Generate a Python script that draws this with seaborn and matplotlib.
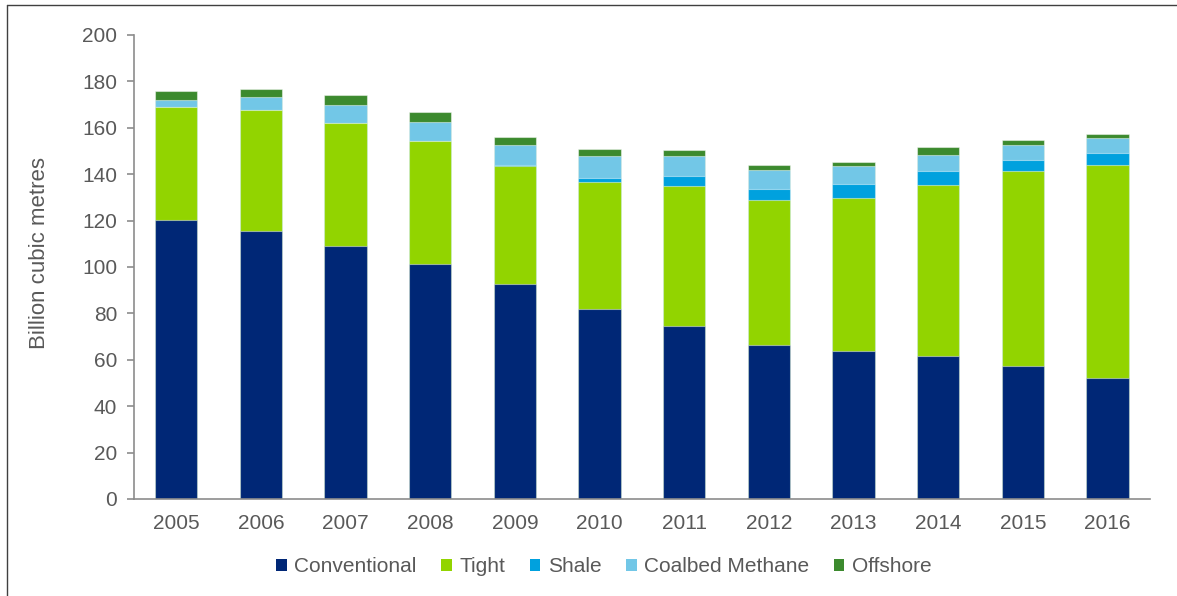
import matplotlib
matplotlib.use("Agg")
import matplotlib.pyplot as plt
import numpy as np
import pandas as pd
import seaborn as sns
from matplotlib.lines import Line2D
from matplotlib.patches import Patch

YEARS = ["2005", "2006", "2007", "2008", "2009", "2010",
         "2011", "2012", "2013", "2014", "2015", "2016"]
CONVENTIONAL = [120.3, 115.4, 108.9, 101.2, 92.7, 81.8, 74.7, 66.2, 63.6, 61.8, 57.5, 52.0]
TIGHT = [48.5, 52.1, 53.3, 53.3, 50.8, 54.7, 60.4, 62.7, 66.1, 73.5, 83.7, 92.0]
SHALE = [0.0, 0.0, 0.0, 0.0, 0.5, 2.0, 4.0, 4.7, 6.2, 6.1, 5.1, 5.3]
COALBED = [3.2, 5.6, 7.6, 8.0, 8.7, 9.3, 8.9, 8.2, 7.5, 6.9, 6.4, 6.3]
OFFSHORE = [4.0, 3.6, 4.2, 4.2, 3.5, 3.1, 2.6, 2.0, 1.7, 3.4, 2.0, 1.9]

SERIES = ["Conventional", "Tight", "Shale", "Coalbed Methane", "Offshore"]
COLORS = ["#002776", "#92D400", "#00A1DE", "#72C7E7", "#3C8A2E"]
TEXT = "#595959"
AXIS = "#8c8c8c"


def main():
    df = pd.DataFrame({"year": YEARS, "Conventional": CONVENTIONAL,
                       "Tight": TIGHT, "Shale": SHALE,
                       "Coalbed Methane": COALBED, "Offshore": OFFSHORE})
    # cumulative totals so the stack can be drawn top-down
    cum = df[SERIES].cumsum(axis=1)
    cum["year"] = df["year"]

    sns.set_style("white")
    plt.rcParams["font.family"] = ["Liberation Sans", "DejaVu Sans"]

    fig = plt.figure(figsize=(11.77, 5.96), dpi=100)
    ax = fig.add_axes([0.1138, 0.1628, 0.977 - 0.1138, 0.9413 - 0.1628])

    for name, color in reversed(list(zip(SERIES, COLORS))):
        sns.barplot(data=cum, x="year", y=name, color=color, width=0.5,
                    saturation=1, errorbar=None, ax=ax,
                    edgecolor=(1, 1, 1, 0.45), linewidth=0.8)

    # Axes styling
    ax.set_ylim(0, 200)
    ax.set_xlim(-0.5, len(YEARS) - 0.5)
    ax.set_yticks(np.arange(0, 201, 20))
    ax.set_xticks(np.arange(-0.5, len(YEARS), 1), minor=True)
    ax.tick_params(axis="x", which="major", length=0, pad=10.5,
                   labelsize=15, labelcolor=TEXT)
    ax.tick_params(axis="x", which="minor", length=5, width=1.2,
                   color=AXIS, direction="out")
    ax.tick_params(axis="y", length=5, width=1.2, color=AXIS, pad=7,
                   labelsize=15, labelcolor=TEXT, left=True)
    ax.set_xlabel("")
    ax.set_ylabel("Billion cubic metres", fontsize=16, color=TEXT)
    ax.yaxis.set_label_coords(-0.083, 0.53)
    for side in ["top", "right"]:
        ax.spines[side].set_visible(False)
    for side in ["left", "bottom"]:
        ax.spines[side].set_color(AXIS)
        ax.spines[side].set_linewidth(1.2)

    handles = [Patch(facecolor=c, edgecolor="none") for c in COLORS]
    fig.legend(handles, SERIES, loc="center", bbox_to_anchor=(0.513, 0.0487),
               ncol=5, frameon=False, fontsize=15, labelcolor=TEXT,
               handlelength=0.5, handleheight=0.5, handletextpad=0.35,
               columnspacing=1.2)

    # Thin frame line along top and left edges, as in the source image
    fig.add_artist(Line2D([7 / 1177, 7 / 1177], [0, 1 - 5 / 596],
                          transform=fig.transFigure, color="#404040", lw=1))
    fig.add_artist(Line2D([7 / 1177, 1], [1 - 5 / 596, 1 - 5 / 596],
                          transform=fig.transFigure, color="#404040", lw=1))

    fig.savefig("out.png", dpi=100)


if __name__ == "__main__":
    main()
